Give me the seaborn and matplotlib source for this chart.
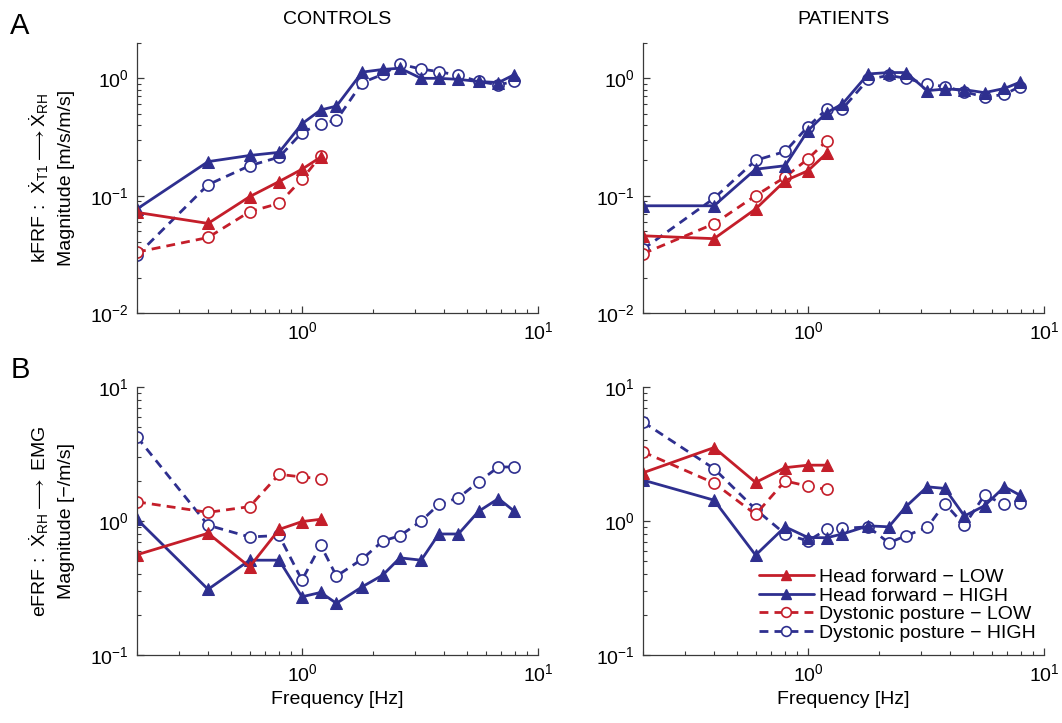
import matplotlib
matplotlib.use("Agg")
import matplotlib.pyplot as plt
import seaborn as sns
from matplotlib.ticker import LogLocator, NullFormatter
from matplotlib.lines import Line2D

# ---------------- data ----------------
freq = [0.2, 0.4, 0.6, 0.8, 1.0, 1.2, 1.4, 1.8, 2.2, 2.6, 3.2, 3.8, 4.6, 5.6, 6.8, 7.9]
freq_low = [0.2, 0.4, 0.6, 0.8, 1.0, 1.2]

# kFRF - controls
k_ctrl_hf_high = [0.077, 0.195, 0.22, 0.234, 0.41, 0.537, 0.58, 1.13, 1.19, 1.22, 1.0, 1.0, 0.98, 0.94, 0.92, 1.07]
k_ctrl_dp_high = [0.031, 0.124, 0.18, 0.213, 0.345, 0.41, 0.44, 0.92, 1.08, 1.32, 1.2, 1.14, 1.06, 0.94, 0.88, 0.94]
k_ctrl_hf_low = [0.072, 0.058, 0.098, 0.132, 0.168, 0.213]
k_ctrl_dp_low = [0.033, 0.044, 0.073, 0.086, 0.138, 0.218]

# kFRF - patients
k_pat_hf_high = [0.082, 0.082, 0.168, 0.18, 0.359, 0.51, 0.605, 1.09, 1.12, 1.12, 0.785, 0.81, 0.80, 0.755, 0.82, 0.925]
k_pat_dp_high = [0.035, 0.095, 0.20, 0.238, 0.388, 0.545, 0.55, 0.98, 1.06, 1.0, 0.895, 0.85, 0.77, 0.69, 0.73, 0.85]
k_pat_hf_low = [0.0455, 0.043, 0.077, 0.134, 0.163, 0.23]
k_pat_dp_low = [0.032, 0.0576, 0.1, 0.144, 0.206, 0.293]

# eFRF - controls
e_ctrl_hf_high = [1.03, 0.309, 0.51, 0.51, 0.272, 0.293, 0.243, 0.323, 0.395, 0.531, 0.51, 0.80, 0.80, 1.18, 1.47, 1.19]
e_ctrl_dp_high = [4.24, 0.93, 0.76, 0.78, 0.362, 0.66, 0.388, 0.52, 0.71, 0.776, 1.0, 1.33, 1.49, 1.96, 2.53, 2.53]
e_ctrl_hf_low = [0.56, 0.81, 0.455, 0.865, 0.99, 1.03]
e_ctrl_dp_low = [1.39, 1.16, 1.28, 2.23, 2.13, 2.07]

# eFRF - patients
e_pat_hf_high = [2.02, 1.43, 0.556, 0.905, 0.753, 0.75, 0.80, 0.92, 0.905, 1.28, 1.80, 1.75, 1.09, 1.30, 1.80, 1.56]
e_pat_dp_high = [5.48, 2.46, 1.22, 0.80, 0.71, 0.865, 0.88, 0.905, 0.687, 0.776, 0.895, 1.35, 0.93, 1.56, 1.33, 1.37]
e_pat_hf_low = [2.29, 3.53, 1.94, 2.5, 2.61, 2.61]
e_pat_dp_low = [3.28, 1.92, 1.12, 1.99, 1.82, 1.72]

legend_labels = ["Head forward \u2212 LOW", "Head forward \u2212 HIGH",
                 "Dystonic posture \u2212 LOW", "Dystonic posture \u2212 HIGH"]
col_titles = ["CONTROLS", "PATIENTS"]

# ---------------- style ----------------
sns.set_theme(style="ticks")
plt.rcParams.update({
    "font.family": ["Liberation Sans", "DejaVu Sans"],
    "mathtext.fontset": "custom",
    "mathtext.rm": "Liberation Sans",
    "mathtext.it": "Liberation Sans:italic",
    "mathtext.bf": "Liberation Sans:bold",
    "mathtext.sf": "Liberation Sans",
    "font.size": 14,
    "text.color": "black",
    "axes.labelcolor": "black",
    "axes.titlecolor": "black",
    "axes.edgecolor": "#3a3a3a",
    "axes.linewidth": 0.9,
    "xtick.color": "#3a3a3a",
    "ytick.color": "#3a3a3a",
    "xtick.labelcolor": "black",
    "ytick.labelcolor": "black",
})

RED = "#C41E2A"
BLUE = "#2E2F8F"
LW = 2.0
DASH = (0, (3.2, 2.2))

fig = plt.figure(figsize=(10.62, 7.23), dpi=100)
W, H = 1062, 723
def rect(x0, y0, x1, y1):
    return [x0 / W, 1 - y1 / H, (x1 - x0) / W, (y1 - y0) / H]

ax_tl = fig.add_axes(rect(137, 43, 538, 313))
ax_tr = fig.add_axes(rect(643, 43, 1044, 313))
ax_bl = fig.add_axes(rect(137, 387, 538, 655))
ax_br = fig.add_axes(rect(643, 387, 1044, 655))

panels = [
    (ax_tl, k_ctrl_hf_low, k_ctrl_hf_high, k_ctrl_dp_low, k_ctrl_dp_high),
    (ax_tr, k_pat_hf_low, k_pat_hf_high, k_pat_dp_low, k_pat_dp_high),
    (ax_bl, e_ctrl_hf_low, e_ctrl_hf_high, e_ctrl_dp_low, e_ctrl_dp_high),
    (ax_br, e_pat_hf_low, e_pat_hf_high, e_pat_dp_low, e_pat_dp_high),
]

for ax, hf_low, hf_high, dp_low, dp_high in panels:
    ax.set_xscale("log")
    ax.set_yscale("log")
    sns.lineplot(x=freq, y=dp_high, ax=ax, color=BLUE, lw=LW, linestyle=DASH,
                 marker="o", markersize=8, markerfacecolor="white",
                 markeredgecolor=BLUE, markeredgewidth=1.2,
                 estimator=None, sort=False, legend=False)
    sns.lineplot(x=freq_low, y=dp_low, ax=ax, color=RED, lw=LW, linestyle=DASH,
                 marker="o", markersize=8, markerfacecolor="white",
                 markeredgecolor=RED, markeredgewidth=1.2,
                 estimator=None, sort=False, legend=False)
    sns.lineplot(x=freq, y=hf_high, ax=ax, color=BLUE, lw=LW, linestyle="-",
                 marker="^", markersize=8, markeredgecolor=BLUE,
                 estimator=None, sort=False, legend=False)
    sns.lineplot(x=freq_low, y=hf_low, ax=ax, color=RED, lw=LW, linestyle="-",
                 marker="^", markersize=8, markeredgecolor=RED,
                 estimator=None, sort=False, legend=False)
    ax.set_xlim(0.2, 10)
    ax.xaxis.set_major_locator(LogLocator(base=10, numticks=10))
    ax.xaxis.set_minor_locator(LogLocator(base=10, subs=range(2, 10), numticks=20))
    ax.xaxis.set_minor_formatter(NullFormatter())
    ax.yaxis.set_minor_formatter(NullFormatter())
    ax.tick_params(which="major", direction="in", length=5, width=0.9, labelsize=14, pad=6)
    ax.tick_params(which="minor", direction="in", length=3, width=0.8)
    sns.despine(ax=ax)
    ax.set_xlabel("")
    ax.set_ylabel("")

for ax in (ax_tl, ax_tr):
    ax.set_ylim(0.01, 2.0)
    ax.yaxis.set_minor_locator(LogLocator(base=10, subs=range(2, 10), numticks=20))
for ax in (ax_bl, ax_br):
    ax.set_ylim(0.1, 10)
    ax.yaxis.set_minor_locator(LogLocator(base=10, subs=range(2, 10), numticks=20))
    ax.set_xlabel("Frequency [Hz]", fontsize=14, labelpad=4)

ax_tl.set_title(col_titles[0], fontsize=14, pad=14)
ax_tr.set_title(col_titles[1], fontsize=14, pad=14)

ax_tl.set_ylabel("kFRF :  $\\dot{\\mathrm{X}}_{\\mathrm{T1}}\\longrightarrow\\dot{\\mathrm{X}}_{\\mathrm{RH}}$\n"
                 "Magnitude [m/s/m/s]", fontsize=14, linespacing=1.55)
ax_bl.set_ylabel("eFRF :  $\\dot{\\mathrm{X}}_{\\mathrm{RH}}\\longrightarrow$ EMG\n"
                 "Magnitude [\u2212/m/s]", fontsize=14, linespacing=1.55)
ax_tl.yaxis.set_label_coords(-0.155, 0.5)
ax_bl.yaxis.set_label_coords(-0.155, 0.5)

fig.text(10 / W, 1 - 34 / H, "A", fontsize=21, ha="left", va="baseline")
fig.text(11 / W, 1 - 378 / H, "B", fontsize=21, ha="left", va="baseline")

handles = [
    Line2D([], [], color=RED, lw=LW, marker="^", markersize=7),
    Line2D([], [], color=BLUE, lw=LW, marker="^", markersize=7),
    Line2D([], [], color=RED, lw=LW, linestyle=DASH, marker="o", markersize=7,
           markerfacecolor="white", markeredgewidth=1.2),
    Line2D([], [], color=BLUE, lw=LW, linestyle=DASH, marker="o", markersize=7,
           markerfacecolor="white", markeredgewidth=1.2),
]
ax_br.legend(handles, legend_labels, loc="lower right", frameon=False,
             fontsize=14, handlelength=2.8, handletextpad=0.3,
             labelspacing=0.05, borderaxespad=0.2, borderpad=0.2,
             bbox_to_anchor=(1.0, 0.02))

fig.savefig("out.png", dpi=100, facecolor="white")
